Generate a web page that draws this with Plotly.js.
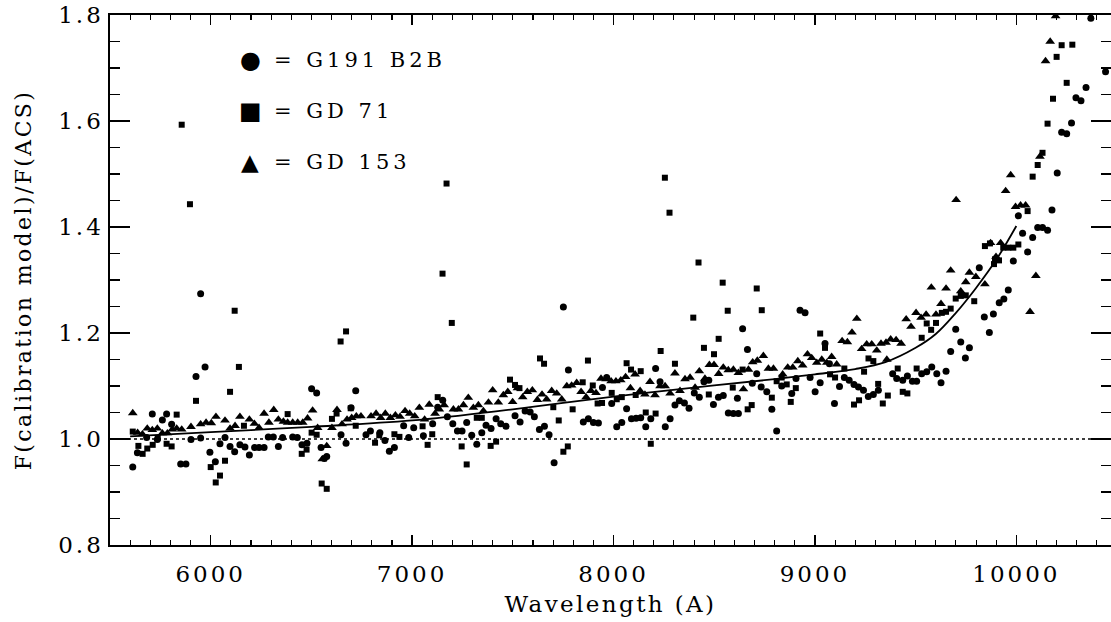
<!DOCTYPE html>
<html>
<head>
<meta charset="utf-8">
<script src="https://cdn.plot.ly/plotly-3.0.1.min.js"></script>
<style>
  html, body { margin: 0; padding: 0; background: #fff; overflow: hidden; }
  #chart { width: 1111px; height: 622px; }
  .xtick text, .ytick text { letter-spacing: 3px; }
  .g-xtitle text, .g-ytitle text { letter-spacing: 2.4px; }
  .annotation-text { letter-spacing: 4px; }
</style>
</head>
<body>
<div id="chart"></div>
<script>
// G191 B2B (circles)
const g191X = [5613,5636,5682,5710,5735,5760,5781,5806,5851,5877,5902,5927,5950,5950,5972,5996,6023,6046,6071,6096,6119,6145,6170,6192,6218,6240,6265,6286,6311,6336,6357,6407,6430,6453,6478,6501,6526,6548,6564,6576,6647,6672,6697,6720,6771,6793,6840,6865,6887,6912,6958,6983,7008,7056,7102,7127,
7152,7175,7202,7225,7248,7271,7296,7321,7346,7367,7392,7417,7440,7466,7511,7536,7561,7586,7607,7632,7657,7680,7705,7751,7776,7850,7875,7900,7925,7945,7966,7991,8016,8041,8065,8089,8112,8135,8160,8185,8209,8231,8257,8281,8305,8327,8352,8375,8401,8426,8449,8473,8496,8521,8545,8570,8595,8615,8620,8641,8665,8689,8711,8733,
8761,8786,8810,8835,8885,8906,8926,8951,8976,9001,9026,9050,9072,9097,9122,9146,9170,9194,9216,9241,9265,9290,9315,9386,9406,9436,9459,9484,9505,9530,9555,9580,9605,9626,9651,9674,9699,9724,9747,9767,
9816,9841,9866,9886,9915,9938,9960,9985,10010,10031,10056,10081,10106,10130,10155,10177,10203,10225,10250,10274,10296,10321,10346,10370,10443];
const g191Y = [0.947,0.974,1.003,1.047,0.999,1.036,1.047,1.028,0.953,0.953,0.999,1.118,1.274,1.002,1.136,0.975,0.957,0.991,1.003,0.986,0.976,0.989,0.985,0.970,0.984,0.984,0.984,1.004,1.004,0.986,1.003,1.004,1.003,0.989,0.992,1.095,1.087,0.984,0.963,0.967,1.008,0.992,1.059,1.091,1.008,1.015,1.012,0.997,0.977,0.984,1.025,1.003,1.021,1.006,1.029,1.060,
1.073,1.042,1.029,1.015,1.015,1.031,1.007,0.990,1.012,1.026,1.020,1.038,1.029,1.024,1.044,1.032,1.053,1.051,1.042,1.018,1.024,1.008,0.955,1.249,1.130,1.032,1.038,1.031,1.030,1.097,1.116,1.067,1.023,1.031,1.057,1.038,1.039,1.040,1.023,1.038,1.133,1.108,1.023,1.038,1.064,1.072,1.068,1.058,1.087,1.079,1.108,1.111,1.065,1.079,1.082,1.049,1.048,1.077,1.048,1.208,1.169,1.105,1.123,1.098,
1.089,1.056,1.015,1.100,1.086,1.114,1.243,1.238,1.116,1.089,1.106,1.180,1.142,1.067,1.099,1.116,1.111,1.103,1.098,1.092,1.080,1.084,1.092,1.123,1.114,1.111,1.119,1.109,1.109,1.123,1.127,1.136,1.123,1.106,1.128,1.165,1.207,1.183,1.153,1.172,
1.323,1.230,1.201,1.236,1.257,1.264,1.281,1.336,1.421,1.388,1.353,1.380,1.399,1.399,1.394,1.432,1.502,1.579,1.576,1.596,1.644,1.638,1.663,1.794,1.693];

// GD 71 (squares)
const gd71X = [5613,5641,5662,5685,5712,5737,5781,5806,5831,5856,5897,5927,6000,6025,6046,6071,6096,6119,6140,6165,6382,6452,6476,6501,6526,6551,6576,6602,6625,6645,6672,6695,6720,6816,6837,6912,6937,7052,7077,7100,7127,
7151,7171,7197,7246,7271,7321,7346,7390,7417,7486,7511,7533,7635,7655,7701,7728,7751,7773,7797,7847,7873,7897,7921,7943,7991,8016,8041,8065,8087,8110,8135,8160,8185,8209,8234,8255,8278,8305,8396,8422,8449,8473,8499,8522,8542,8567,8592,8641,8666,8686,
8711,8736,8786,8810,8835,8860,8880,8905,9026,9050,9075,9100,9146,9194,9219,9244,9266,9290,9314,9337,9362,9411,9436,9459,9505,9530,9555,9577,9601,9630,9651,9674,9699,9724,9749,9791,
9844,9869,9889,9894,9914,9935,9960,9985,10010,10056,10081,10106,10130,10155,10182,10200,10225,10250,10278];
const gd71Y = [1.014,0.987,0.972,0.982,0.989,1.002,0.991,0.986,1.046,1.593,1.443,1.072,0.947,0.918,0.931,0.959,1.089,1.242,1.136,1.025,1.047,0.972,0.980,1.012,1.008,0.916,0.906,1.038,1.048,1.184,1.203,1.058,1.025,0.993,1.007,1.009,1.004,1.024,0.989,1.009,1.079,
1.312,1.482,1.219,0.986,0.952,1.040,1.040,0.987,0.995,1.112,1.102,1.096,1.152,1.142,1.060,1.035,0.976,0.986,1.056,1.107,1.148,1.101,1.067,1.068,1.087,1.075,1.079,1.143,1.131,1.083,1.128,1.050,0.991,1.048,1.166,1.493,1.427,1.142,1.229,1.333,1.172,1.084,1.160,1.189,1.295,1.242,1.097,1.131,1.056,1.064,
1.284,1.243,1.078,1.109,1.116,1.103,1.070,1.096,1.199,1.172,1.122,1.116,1.133,1.065,1.073,1.127,1.152,1.147,1.104,1.067,1.082,1.133,1.089,1.086,1.133,1.191,1.218,1.206,1.219,1.238,1.240,1.246,1.265,1.270,1.271,1.260,
1.364,1.369,1.330,1.339,1.337,1.361,1.361,1.361,1.367,1.430,1.495,1.517,1.540,1.595,1.642,1.721,1.743,1.672,1.744];

// GD 153 (triangles)
const gd153X = [5613,5637,5661,5685,5710,5735,5760,5785,5809,5831,5856,5902,5950,5977,6003,6026,6071,6096,6121,6145,6192,6217,6240,6265,6289,6313,6336,6361,6382,6407,6432,6457,6481,6506,6531,6554,6576,6602,6627,6652,6677,6700,6723,6746,6796,6821,6844,6867,6892,6917,6940,6965,6988,7013,7036,7062,7085,
7114,7135,7159,7205,7230,7255,7279,7304,7329,7354,7379,7400,7428,7453,7475,7499,7523,7549,7572,7597,7622,7645,7668,7693,7718,7743,7768,7792,7817,7839,7864,7888,7913,7938,7963,7988,8012,8036,8060,8084,8107,8132,8156,8181,8206,8231,8256,8281,8305,8330,8355,8380,8405,8426,8454,8476,8499,8522,8545,8570,8595,8620,8645,8670,8691,8714,
8744,8769,8794,8840,8865,8890,8915,8939,8963,8984,9009,9034,9059,9083,9108,9135,9161,9184,9208,9232,9257,9282,9307,9328,9353,9357,9376,9403,9428,9453,9477,9502,9527,9552,9578,9601,9626,9651,9674,9701,9724,9749,9767,
9799,9844,9872,9899,9922,9947,9972,9996,10021,10046,10068,10097,10117,10145,10168,10195];
const gd153Y = [1.049,1.012,1.009,1.020,1.017,1.020,1.011,1.011,1.018,1.020,1.018,1.023,1.028,1.031,1.030,1.042,1.035,1.020,1.025,1.042,1.037,1.029,1.021,1.048,1.031,1.055,1.037,1.033,1.031,1.031,1.031,1.031,1.039,1.054,1.021,0.962,0.987,1.021,1.055,1.028,1.037,1.040,1.043,1.043,1.043,1.048,1.040,1.048,1.040,1.045,1.042,1.053,1.048,1.043,1.059,1.037,1.065,
1.048,1.056,1.064,1.056,1.056,1.064,1.078,1.059,1.064,1.053,1.069,1.092,1.069,1.083,1.089,1.070,1.096,1.079,1.089,1.092,1.074,1.084,1.075,1.091,1.086,1.075,1.100,1.101,1.106,1.089,1.079,1.091,1.087,1.114,1.113,1.109,1.109,1.111,1.117,1.096,1.122,1.091,1.084,1.108,1.083,1.100,1.100,1.086,1.124,1.091,1.113,1.116,1.097,1.128,1.114,1.140,1.140,1.123,1.135,1.130,1.131,1.125,1.094,1.131,1.145,1.148,
1.157,1.133,1.133,1.122,1.135,1.135,1.147,1.139,1.160,1.153,1.144,1.150,1.144,1.155,1.141,1.185,1.183,1.201,1.227,1.170,1.179,1.179,1.167,1.180,1.182,1.150,1.188,1.187,1.180,1.226,1.212,1.238,1.229,1.235,1.286,1.235,1.255,1.284,1.318,1.451,1.279,1.296,1.314,
1.306,1.292,1.370,1.344,1.370,1.468,1.498,1.438,1.441,1.441,1.240,1.308,1.533,1.713,1.750,1.798];

// fitted calibration curve
const fitX = [5600,6000,6500,7000,7500,8000,8500,8800,9000,9200,9350,9500,9600,9700,9800,9900,10000];
const fitY = [1.005,1.013,1.023,1.035,1.056,1.080,1.101,1.113,1.122,1.132,1.145,1.172,1.198,1.238,1.285,1.338,1.402];

const legendSymbols = ['\u25CF', '\u25A0', '\u25B2'];
const legendLabels = ['= G191 B2B', '= GD 71', '= GD 153'];

const serif = 'DejaVu Serif, serif';

const traces = [
  {x: g191X, y: g191Y, mode: 'markers', type: 'scatter', name: 'G191 B2B',
   marker: {symbol: 'circle', size: 7, color: '#000'}},
  {x: gd71X, y: gd71Y, mode: 'markers', type: 'scatter', name: 'GD 71',
   marker: {symbol: 'square', size: 6, color: '#000'}},
  {x: gd153X, y: gd153Y, mode: 'markers', type: 'scatter', name: 'GD 153',
   marker: {symbol: 'triangle-up', size: 8.5, color: '#000'}},
  {x: fitX, y: fitY, mode: 'lines', type: 'scatter', name: 'fit',
   line: {color: '#000', width: 1.8, shape: 'spline', smoothing: 1}}
];

const legendY = [0.915, 0.819, 0.7226];
const annotations = [];
legendSymbols.forEach((s, i) => {
  annotations.push({xref: 'paper', yref: 'paper', x: 0.1419, y: legendY[i], xanchor: 'center', yanchor: 'middle',
    text: s, showarrow: false, font: {family: 'DejaVu Sans', size: i === 2 ? 23 : 24, color: '#000'}});
  annotations.push({xref: 'paper', yref: 'paper', x: 0.1618, y: legendY[i], xanchor: 'left', yanchor: 'middle',
    text: legendLabels[i], showarrow: false, font: {family: serif, size: 21, color: '#000'}});
});

const layout = {
  width: 1111, height: 622,
  margin: {l: 110, r: 0, t: 15, b: 77},
  paper_bgcolor: '#fff', plot_bgcolor: '#fff',
  showlegend: false,
  xaxis: {
    range: [5500, 10470], tick0: 0, dtick: 1000, tickformat: 'd',
    ticks: 'inside', ticklen: 10, tickwidth: 1.3, tickcolor: '#000',
    minor: {dtick: 100, tick0: 0, ticks: 'inside', ticklen: 5, tickwidth: 1.1, tickcolor: '#000'},
    showline: true, linecolor: '#000', linewidth: 1.6, mirror: 'ticks',
    showgrid: false, zeroline: false,
    ticklabelstandoff: 8,
    tickfont: {family: serif, size: 23, color: '#000'},
    title: {text: 'Wavelength (A)', font: {family: serif, size: 23, color: '#000'}, standoff: 9}
  },
  yaxis: {
    range: [0.8, 1.8], tick0: 0.8, dtick: 0.2, tickformat: '.1f',
    ticks: 'inside', ticklen: 20, tickwidth: 1.3, tickcolor: '#000',
    minor: {dtick: 0.05, tick0: 0.8, ticks: 'inside', ticklen: 10, tickwidth: 1.1, tickcolor: '#000'},
    showline: true, linecolor: '#000', linewidth: 1.6, mirror: 'ticks',
    showgrid: false, zeroline: false,
    tickfont: {family: serif, size: 23, color: '#000'},
    title: {text: 'F(calibration model)/F(ACS)', font: {family: serif, size: 22, color: '#000'}, standoff: 20}
  },
  shapes: [{type: 'line', xref: 'paper', yref: 'y', x0: 0, x1: 1, y0: 1.0, y1: 1.0,
            line: {color: '#000', width: 1.6, dash: 'dot'}, layer: 'below'}],
  annotations: annotations
};

Plotly.newPlot('chart', traces, layout, {displayModeBar: false, staticPlot: true});
</script>
</body>
</html>
